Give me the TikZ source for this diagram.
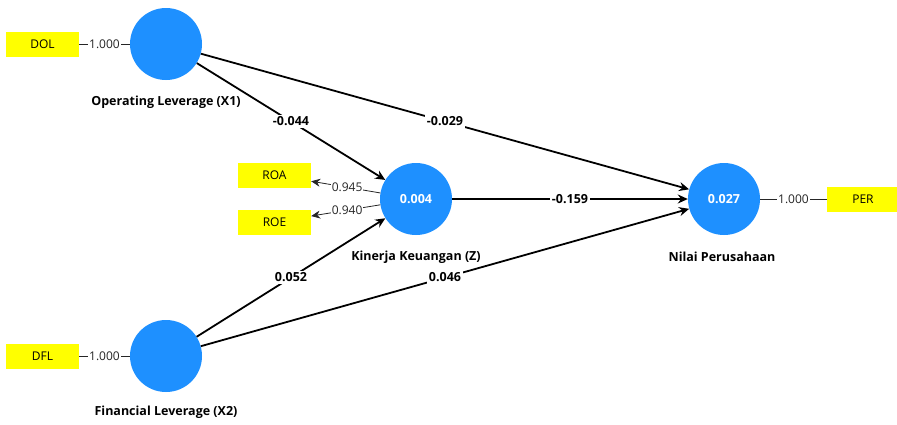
\documentclass[tikz,border=0pt]{standalone}
\usepackage{fontspec}
\setmainfont{Open Sans}
\usetikzlibrary{arrows.meta}
\definecolor{lvblue}{RGB}{30,144,255}
\definecolor{mvyellow}{RGB}{255,255,0}
\tikzset{
  latent/.style={circle, fill=lvblue, minimum size=72pt, inner sep=0pt, text=white, font=\fontsize{12.5}{14}\selectfont\bfseries},
  manifest/.style={rectangle, fill=mvyellow, minimum width=73pt, minimum height=25pt, inner sep=0pt, font=\fontsize{12}{14}\selectfont},
  lvname/.style={font=\fontsize{12.5}{14}\selectfont\bfseries, inner sep=1pt},
  loadline/.style={draw=black!85, line width=0.8pt},
  loadlabel/.style={fill=white, inner sep=1pt, font=\fontsize{12}{14}\selectfont, text=black!85},
  pathline/.style={draw=black, line width=1.8pt, -{Stealth[length=10pt,width=9pt]}},
  pathlabel/.style={fill=white, inner sep=2pt, font=\fontsize{12.5}{14}\selectfont\bfseries},
  loadarrow/.style={draw=black!85, line width=0.8pt, -{Stealth[length=9pt,width=8pt]}}
}
\begin{document}
\begin{tikzpicture}[x=1pt,y=-1pt]
\useasboundingbox[fill=white] (0,0) rectangle (897,424);
% latent variables
\node[latent] (x1) at (166,44) {};
\node[latent] (x2) at (166,356) {};
\node[latent] (z) at (416,199) {0.004};
\node[latent] (y) at (724,199) {0.027};
% names
\node[lvname] (nx1) at (166,102) {Operating Leverage (X1)};
\node[lvname] (nx2) at (166,412) {Financial Leverage (X2)};
\node[lvname] (nz) at (416,257) {Kinerja Keuangan (Z)};
\node[lvname] (ny) at (722,257) {Nilai Perusahaan};
% indicators
\node[manifest] (dol) at (42.5,44) {DOL};
\node[manifest] (dfl) at (42.5,356) {DFL};
\node[manifest] (roa) at (274.5,175) {ROA};
\node[manifest] (roe) at (274.5,222) {ROE};
\node[manifest, minimum width=72pt] (per) at (863,199) {PER};
% loadings
\draw[loadline] (dol) -- node[loadlabel] {1.000} (x1);
\draw[loadline] (dfl) -- node[loadlabel] {1.000} (x2);
\draw[loadline] (y) -- node[loadlabel] {1.000} (per);
\draw[loadarrow] (z) -- node[loadlabel, pos=0.48] {0.945} (roa);
\draw[loadarrow] (z) -- node[loadlabel, pos=0.48] {0.940} (roe);
% structural paths
\draw[pathline] (x1) -- node[pathlabel] {-0.044} (z);
\draw[pathline] (x1) -- node[pathlabel] {-0.029} (y);
\draw[pathline] (x2) -- node[pathlabel] {0.052} (z);
\draw[pathline] (x2) -- node[pathlabel] {0.046} (y);
\draw[pathline] (z) -- node[pathlabel] {-0.159} (y);
\end{tikzpicture}
\end{document}
